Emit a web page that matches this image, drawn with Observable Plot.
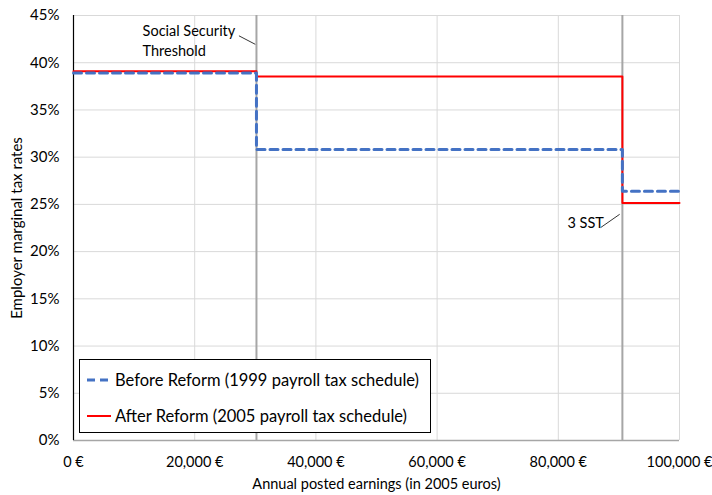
<!DOCTYPE html>
<html>
<head>
<meta charset="utf-8">
<script src="https://cdn.jsdelivr.net/npm/d3@7"></script>
<script src="https://cdn.jsdelivr.net/npm/@observablehq/plot@0.6"></script>
<style>
  body { margin: 0; background: #fff; }
  #wrap { position: relative; width: 712px; height: 495px; font-family: Lato, "Open Sans", sans-serif; }
  #legend { position: absolute; left: 79px; top: 359px; width: 352px; height: 74px; border: 1px solid #000; background: #fff; box-sizing: border-box; font-size: 16.5px; color: #000; }
  .row { position: absolute; left: 7px; display: flex; align-items: center; white-space: nowrap; height: 20px; }
  .row svg { margin-right: 4px; }
</style>
</head>
<body>
<div id="wrap"></div>
<script>
const SST = 30192;
const SST3 = 90576;
const earnings = [0, SST, SST, SST3, SST3, 100000];
const beforeRates = [0.389, 0.389, 0.308, 0.308, 0.264, 0.264];
const afterRates = [0.391, 0.391, 0.3855, 0.3855, 0.2515, 0.2515];
const xTicks = [0, 20000, 40000, 60000, 80000, 100000];
const yTicks = [0, 0.05, 0.10, 0.15, 0.20, 0.25, 0.30, 0.35, 0.40, 0.45];
const seriesNames = ["Before Reform (1999 payroll tax schedule)", "After Reform (2005 payroll tax schedule)"];

const before = earnings.map((x, i) => ({x, y: beforeRates[i]}));
const after = earnings.map((x, i) => ({x, y: afterRates[i]}));
const fmtX = d => d3.format(",")(d) + " €";

const plot = Plot.plot({
  width: 712,
  height: 495,
  marginLeft: 73,
  marginRight: 33,
  marginTop: 15,
  marginBottom: 55,
  style: {fontFamily: "Lato, 'Open Sans', sans-serif", fontSize: "15px", color: "#000", background: "#fff", overflow: "visible"},
  x: {domain: [0, 100000]},
  y: {domain: [0, 0.45]},
  marks: [
    Plot.gridX(xTicks, {stroke: "#d9d9d9", strokeOpacity: 1, strokeWidth: 1}),
    Plot.gridY(yTicks, {stroke: "#d9d9d9", strokeOpacity: 1, strokeWidth: 1}),
    Plot.axisX({ticks: xTicks, tickFormat: fmtX, tickSize: 0, tickPadding: 16, label: "Annual posted earnings (in 2005 euros)", labelAnchor: "center", labelArrow: "none", labelOffset: 48, fontSize: 14.5}),
    Plot.axisY({ticks: yTicks, tickFormat: d3.format(".0%"), tickSize: 0, tickPadding: 14, label: "Employer marginal tax rates", labelAnchor: "center", labelOffset: 62, labelArrow: "none", fontSize: 15}),
    Plot.ruleY([0], {stroke: "#a6a6a6", strokeWidth: 1.5}),
    Plot.ruleX([0], {y1: 0, y2: 0.45, stroke: "#000", strokeWidth: 1.2}),
    Plot.ruleX([SST, SST3], {y1: 0, y2: 0.45, stroke: "#a6a6a6", strokeWidth: 2}),
    Plot.line(after, {x: "x", y: "y", stroke: "#ff0000", strokeWidth: 2}),
    Plot.line(before, {x: "x", y: "y", stroke: "#4472c4", strokeWidth: 3, strokeDasharray: "8,5"}),
    Plot.text(["Social Security", "Threshold"], {x: [11400, 11400], y: [0.4335, 0.412], text: d => d, textAnchor: "start", fontSize: 14.5, fill: "#000"}),
    Plot.link([0], {x1: 27300, y1: 0.4285, x2: SST - 200, y2: 0.4195, stroke: "#000", strokeWidth: 0.8}),
    Plot.text(["3 SST"], {x: 81500, y: 0.2295, textAnchor: "start", fontSize: 14.5, fill: "#000"}),
    Plot.link([0], {x1: 87000, y1: 0.2255, x2: SST3 - 450, y2: 0.2395, stroke: "#000", strokeWidth: 0.8})
  ]
});

const wrap = document.getElementById("wrap");
wrap.appendChild(plot);

const legend = document.createElement("div");
legend.id = "legend";
legend.innerHTML = `
  <div class="row" style="top:10px"><svg width="24" height="6"><line x1="0" y1="3" x2="24" y2="3" stroke="#4472c4" stroke-width="3" stroke-dasharray="8,5"/></svg><span>${seriesNames[0]}</span></div>
  <div class="row" style="top:46px"><svg width="24" height="6"><line x1="0" y1="3" x2="24" y2="3" stroke="#ff0000" stroke-width="2"/></svg><span>${seriesNames[1]}</span></div>`;
wrap.appendChild(legend);
</script>
</body>
</html>
